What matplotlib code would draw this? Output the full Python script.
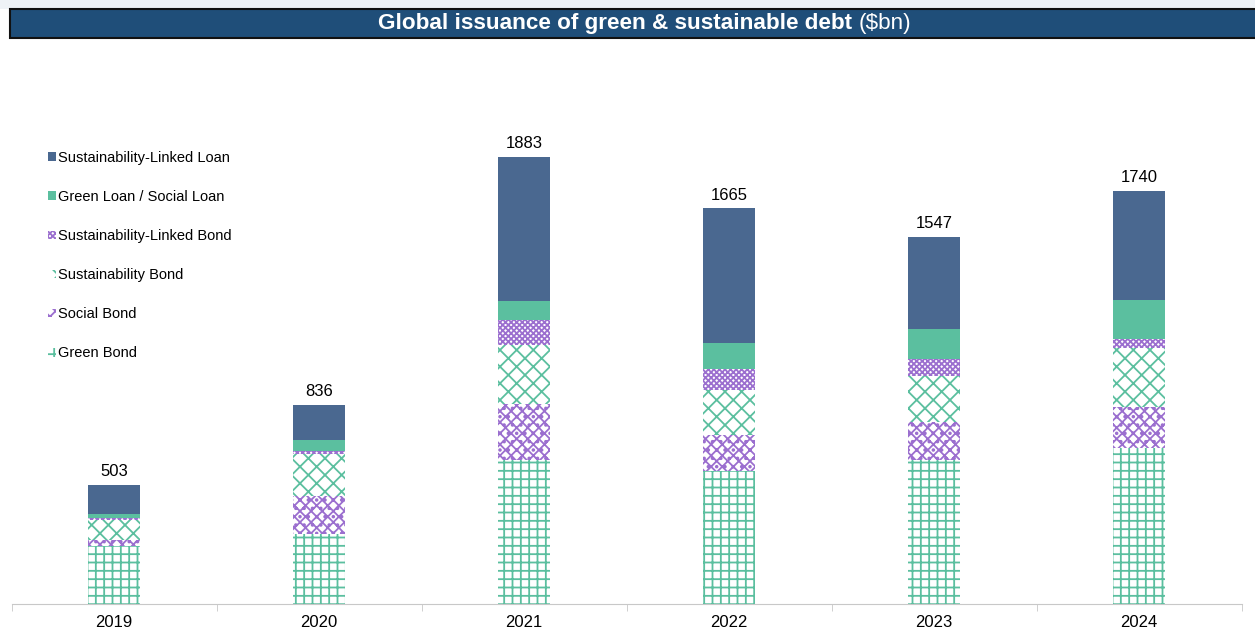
import matplotlib.pyplot as plt
import numpy as np
from matplotlib.patches import Rectangle

years = ["2019", "2020", "2021", "2022", "2023", "2024"]
totals = [503, 836, 1883, 1665, 1547, 1740]

green_bond = [244, 295, 606, 560, 606, 657]
social_bond = [25, 160, 236, 152, 160, 173]
sust_bond = [84, 177, 248, 189, 194, 248]
sl_bond = [10, 13, 105, 88, 72, 38]
green_social_loan = [17, 46, 80, 109, 126, 164]
sl_loan = [123, 145, 608, 567, 389, 460]

teal = "#5bbf9f"
purple = "#9b6fcf"
navy = "#4a6890"

series = [
    ("Green Bond", green_bond, "white", teal, "++"),
    ("Social Bond", social_bond, "white", purple, "xxx.."),
    ("Sustainability Bond", sust_bond, "white", teal, "xx"),
    ("Sustainability-Linked Bond", sl_bond, "white", purple, "xxxxxx"),
    ("Green Loan / Social Loan", green_social_loan, teal, teal, None),
    ("Sustainability-Linked Loan", sl_loan, navy, navy, None),
]

plt.rcParams['font.family'] = ['Liberation Sans', 'DejaVu Sans']
plt.rcParams['hatch.linewidth'] = 1.3

fig = plt.figure(figsize=(12.55, 6.3), dpi=100)
fig.patch.set_facecolor("white")
ax = fig.add_axes([11.5 / 1255, 26 / 630, 1230 / 1255, 544 / 630])

x = np.arange(len(years))
bottom = np.zeros(len(years))
handles = []
for name, vals, fc, ec, hatch in series:
    bars = ax.bar(x, vals, width=0.25, bottom=bottom, color=fc, edgecolor=ec,
                  hatch=hatch, linewidth=0, label=name)
    handles.append(bars)
    bottom += np.array(vals)

for xi, t in zip(x, totals):
    ax.text(xi, t + 25, str(t), ha="center", va="bottom", fontsize=12)

ax.set_xlim(-0.5, len(years) - 0.5)
ax.set_ylim(0, 2290)
ax.set_yticks([])
ax.set_xticks(x)
ax.set_xticklabels(years, fontsize=12)
ax.set_xticks(np.arange(len(years) + 1) - 0.5, minor=True)
ax.tick_params(axis="x", which="major", length=0, pad=8)
ax.tick_params(axis="x", which="minor", length=5, color="#c8c8c8")
for side in ["top", "right", "left"]:
    ax.spines[side].set_visible(False)
ax.spines["bottom"].set_color("#c8c8c8")

leg = ax.legend(handles=handles[::-1], loc="upper left", bbox_to_anchor=(0.019, 0.857),
                frameon=False, fontsize=10.5, handlelength=0.55, handleheight=0.55,
                handletextpad=0.15, labelspacing=1.72)

# title bar
fig.patches.append(Rectangle((0, 1 - 9 / 630), 1, 9 / 630, transform=fig.transFigure,
                             facecolor="#eef2f6", edgecolor="none"))
fig.patches.append(Rectangle((10 / 1255, 1 - 38 / 630), 1.0, 29 / 630,
                             transform=fig.transFigure, facecolor="#1f4e79",
                             edgecolor="#111111", linewidth=1.5))
ty = 1 - 23.5 / 630
t1 = fig.text(0, ty, "Global issuance of green & sustainable debt ",
              ha="left", va="center", color="white", fontsize=16.2, fontweight="bold")
t2 = fig.text(0, ty, "($bn)", ha="left", va="center", color="white", fontsize=16.2)
fig.canvas.draw()
w1 = t1.get_window_extent().width
w2 = t2.get_window_extent().width
start = 645 - (w1 + w2) / 2
t1.set_x(start / 1255)
t2.set_x((start + w1) / 1255)

fig.savefig("out.png", dpi=100)
